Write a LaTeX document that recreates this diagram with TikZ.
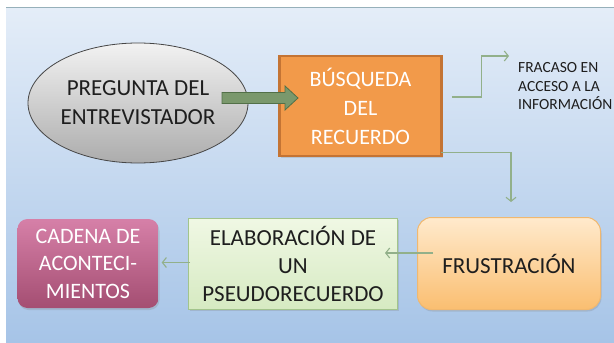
\documentclass[tikz,border=0pt]{standalone}
\usepackage{fontspec}
\setmainfont{Carlito}
\usetikzlibrary{shapes.geometric,arrows.meta,calc,shadows}
\definecolor{panetop}{RGB}{228,237,248}
\definecolor{panebot}{RGB}{166,196,231}
\definecolor{panelinea}{RGB}{150,176,186}
\definecolor{eltop}{RGB}{242,242,242}
\definecolor{elbot}{RGB}{172,172,172}
\definecolor{elborde}{RGB}{70,70,70}
\definecolor{naranja}{RGB}{242,154,74}
\definecolor{nborde}{RGB}{196,116,52}
\definecolor{flecha}{RGB}{122,152,108}
\definecolor{flborde}{RGB}{82,112,72}
\definecolor{linkverde}{RGB}{146,176,138}
\definecolor{frtop}{RGB}{255,234,205}
\definecolor{frbot}{RGB}{250,190,112}
\definecolor{frborde}{RGB}{240,184,112}
\definecolor{eltxtop}{RGB}{240,248,228}
\definecolor{eltxbot}{RGB}{214,234,194}
\definecolor{elabborde}{RGB}{162,196,140}
\definecolor{catop}{RGB}{214,128,168}
\definecolor{cabot}{RGB}{164,78,114}
\definecolor{textgris}{RGB}{30,30,30}
\begin{document}
\begin{tikzpicture}[x=1pt,y=-1pt,
  big/.style={font=\fontsize{23}{29}\selectfont, align=center, inner sep=0pt, text=textgris},
  caja/.style={rectangle, big, drop shadow={opacity=0.25, shadow xshift=1pt, shadow yshift=-2pt}},
  link/.style={draw=linkverde, line width=1.1pt, -{Straight Barb[length=4pt,width=10pt]}}]
  \useasboundingbox (0,0) rectangle (614,343);
  \fill[white] (0,0) rectangle (614,343);
  \shade[top color=panetop, bottom color=panebot] (6,8) rectangle (614,343);
  \draw[panelinea, line width=1.5pt] (6,7.5) -- (614,7.5);
  \node (pregunta) [ellipse, big, draw=elborde, line width=0.8pt, top color=eltop, bottom color=elbot, minimum width=220pt, minimum height=120pt, text depth=0pt] at (138,103) {PREGUNTA DEL\\ENTREVISTADOR};
  \node (busqueda) [caja, draw=nborde, line width=2.5pt, fill=naranja, text=white, minimum width=162pt, minimum height=100pt, font=\fontsize{22}{29}\selectfont] at (360.5,106) {BÚSQUEDA\\DEL\\RECUERDO};
  \draw[draw=flborde, fill=flecha, line width=0.8pt] (222,92.5) -- (285,92.5) -- (285,86) -- (298,98) -- (285,110) -- (285,103.5) -- (222,103.5) -- cycle;
  \node (fracaso) [anchor=west, align=left, inner sep=0pt, text=textgris, font=\fontsize{15.5}{18.5}\selectfont] at (518,86.5) {FRACASO EN\\ACCESO A LA\\INFORMACIÓN};
  \node (frustracion) [caja, rounded corners=14pt, draw=frborde, line width=1pt, top color=frtop, bottom color=frbot, minimum width=183pt, minimum height=92pt] at (509,263.5) {FRUSTRACIÓN};
  \node (elaboracion) [caja, left of=frustracion, node distance=216pt, draw=elabborde, line width=1pt, top color=eltxtop, bottom color=eltxbot, minimum width=209pt, minimum height=91pt, font=\fontsize{23}{28}\selectfont] {ELABORACIÓN DE\\UN\\PSEUDORECUERDO};
  \node (cadena) [caja, left of=elaboracion, node distance=205pt, rounded corners=10pt, top color=catop, bottom color=cabot, text=white, minimum width=141pt, minimum height=89pt, font=\fontsize{22}{27.5}\selectfont] {CADENA DE\\ACONTECI-\\MIENTOS};
  \coordinate (fracasotip) at (509,56);
  \coordinate (frustip) at (511,202);
  \draw[link] ($(busqueda.east)+(9,-9)$) -- ++(30,0) |- (fracasotip);
  \draw[link] ($(busqueda.south east)+(-2,-5)$) -| (frustip);
  \draw[link] ($(frustracion.west)+(16,-10.5)$) -- ($(elaboracion.east)+(-13,-10.5)$);
  \draw[link] ($(elaboracion.west)+(2,-1)$) -- ($(cadena.east)+(3,-1)$);
\end{tikzpicture}
\end{document}
